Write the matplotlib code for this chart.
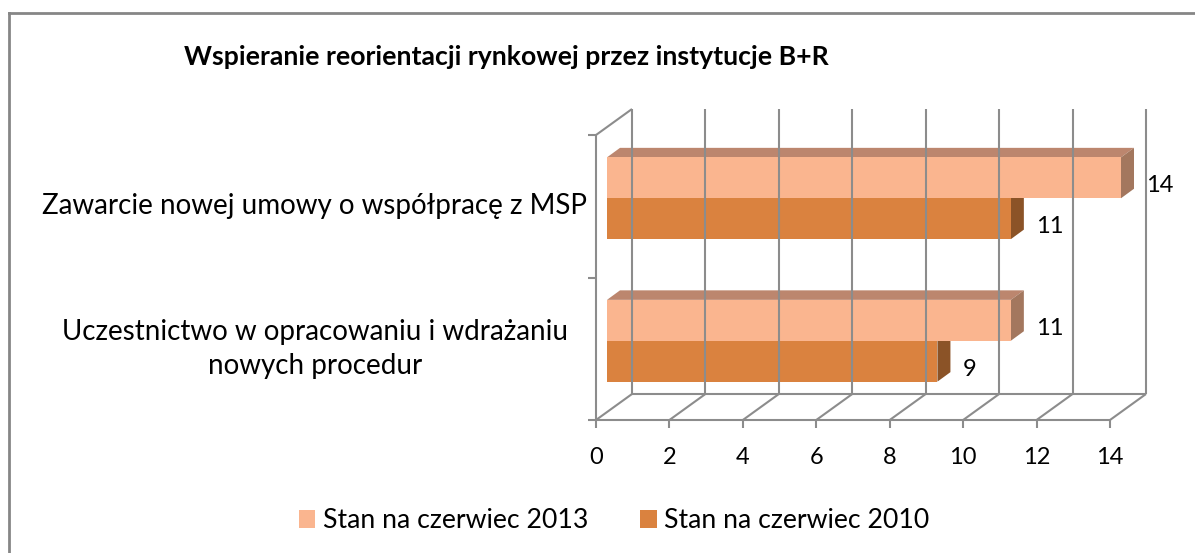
import matplotlib
matplotlib.use("Agg")
import matplotlib.pyplot as plt
from matplotlib.patches import Polygon, Patch
from matplotlib.lines import Line2D
from matplotlib.transforms import blended_transform_factory

plt.rcParams['font.family'] = ['Lato', 'DejaVu Sans']

# data
title = "Wspieranie reorientacji rynkowej przez instytucje B+R"
categories = ["Uczestnictwo w opracowaniu i wdrażaniu\nnowych procedur",
              "Zawarcie nowej umowy o współpracę z MSP"]
series_names = ["Stan na czerwiec 2013", "Stan na czerwiec 2010"]
values_2013 = [11, 14]
values_2010 = [9, 11]
x_ticks = [0, 2, 4, 6, 8, 10, 12, 14]

face_colors = ["#FAB58F", "#DA823F"]
side_colors = ["#A3775E", "#8B5327"]
top_color = "#BC866E"
grid_color = "#8C8C8C"

W, H = 1195, 553
fig = plt.figure(figsize=(W / 100, H / 100), dpi=100)

# front plane of the 3d box, in pixels
X0, X1, YT, YB = 596, 1110, 135, 420
ax = fig.add_axes([X0 / W, 1 - YB / H, (X1 - X0) / W, (YB - YT) / H])
xmax, ymax = 14, 2
ax.set_xlim(0, xmax)
ax.set_ylim(0, ymax)
ax.axis('off')

ux = xmax / (X1 - X0)
uy = ymax / (YB - YT)

def off(dx, dy):
    return dx * ux, dy * uy

bdx, bdy = off(36, 26)      # back wall offset
fdx, fdy = off(11, 8)       # bar front face offset
ddx, ddy = off(13, 9.5)     # bar depth

lw = 1.5
kw = dict(color=grid_color, lw=lw, clip_on=False, solid_capstyle='butt')

# back wall verticals and floor diagonals
for t in x_ticks:
    ax.plot([t + bdx, t + bdx], [bdy, ymax + bdy], **kw)
    ax.plot([t, t + bdx], [0, bdy], **kw)
ax.plot([bdx, xmax + bdx], [bdy, bdy], **kw)
# front floor line and left wall
ax.plot([0, xmax], [0, 0], **kw)
ax.plot([0, 0], [0, ymax], **kw)
ax.plot([0, bdx], [ymax, ymax + bdy], **kw)
# ticks
tx = 8 * ux
ty = 8 * uy
for t in x_ticks:
    ax.plot([t, t], [0, -ty], **kw)
    ax.text(t, -0.26, str(t), ha='center', va='center', fontsize=17)
for y in range(ymax + 1):
    ax.plot([-tx, 0], [y, y], **kw)

# bars
bh = 0.287
for i in range(len(categories)):
    c = i + 0.5
    for vals, y0, k in [(values_2010, c - bh, 1), (values_2013, c, 0)]:
        v = vals[i]
        xl, yl = fdx, y0 + fdy
        xr, yt = v + fdx, y0 + bh + fdy
        ax.add_patch(Polygon([(xl, yt), (xr, yt), (xr + ddx, yt + ddy), (xl + ddx, yt + ddy)],
                             closed=True, fc=top_color, ec='none', clip_on=False))
        ax.add_patch(Polygon([(xr, yl), (xr + ddx, yl + ddy), (xr + ddx, yt + ddy), (xr, yt)],
                             closed=True, fc=side_colors[k], ec='none', clip_on=False))
        ax.barh(y0 + fdy, v, height=bh, left=fdx, align='edge', color=face_colors[k],
                edgecolor='none', clip_on=False)
        ax.annotate(str(v), (v, y0 + bh / 2), xytext=(26, 0), textcoords='offset points',
                    ha='left', va='center', fontsize=17, annotation_clip=False)

# category labels
lab_tr = blended_transform_factory(fig.transFigure, ax.transData)
for i, lab in enumerate(categories):
    ax.text(315 / W, i + 0.5, lab, transform=lab_tr,
            ha='center', va='center', multialignment='center', fontsize=20, linespacing=1.38)

fig.text(506 / W, 1 - 57 / H, title, ha='center', va='center', fontsize=19.2, fontweight='bold')

handles = [Patch(facecolor=c, edgecolor='none') for c in face_colors]
fig.legend(handles, series_names, loc='center', bbox_to_anchor=(614 / W, 1 - 521 / H), ncol=2,
           frameon=False, fontsize=19.2, handlelength=0.62, handleheight=0.62, handletextpad=0.28,
           columnspacing=1.95)

# outer frame
fig.add_artist(Line2D([9 / W, 1], [1 - 13 / H, 1 - 13 / H], transform=fig.transFigure, color='#868686', lw=2))
fig.add_artist(Line2D([9 / W, 9 / W], [0, 1 - 13 / H], transform=fig.transFigure, color='#868686', lw=2))

fig.savefig("out.png", dpi=100)
